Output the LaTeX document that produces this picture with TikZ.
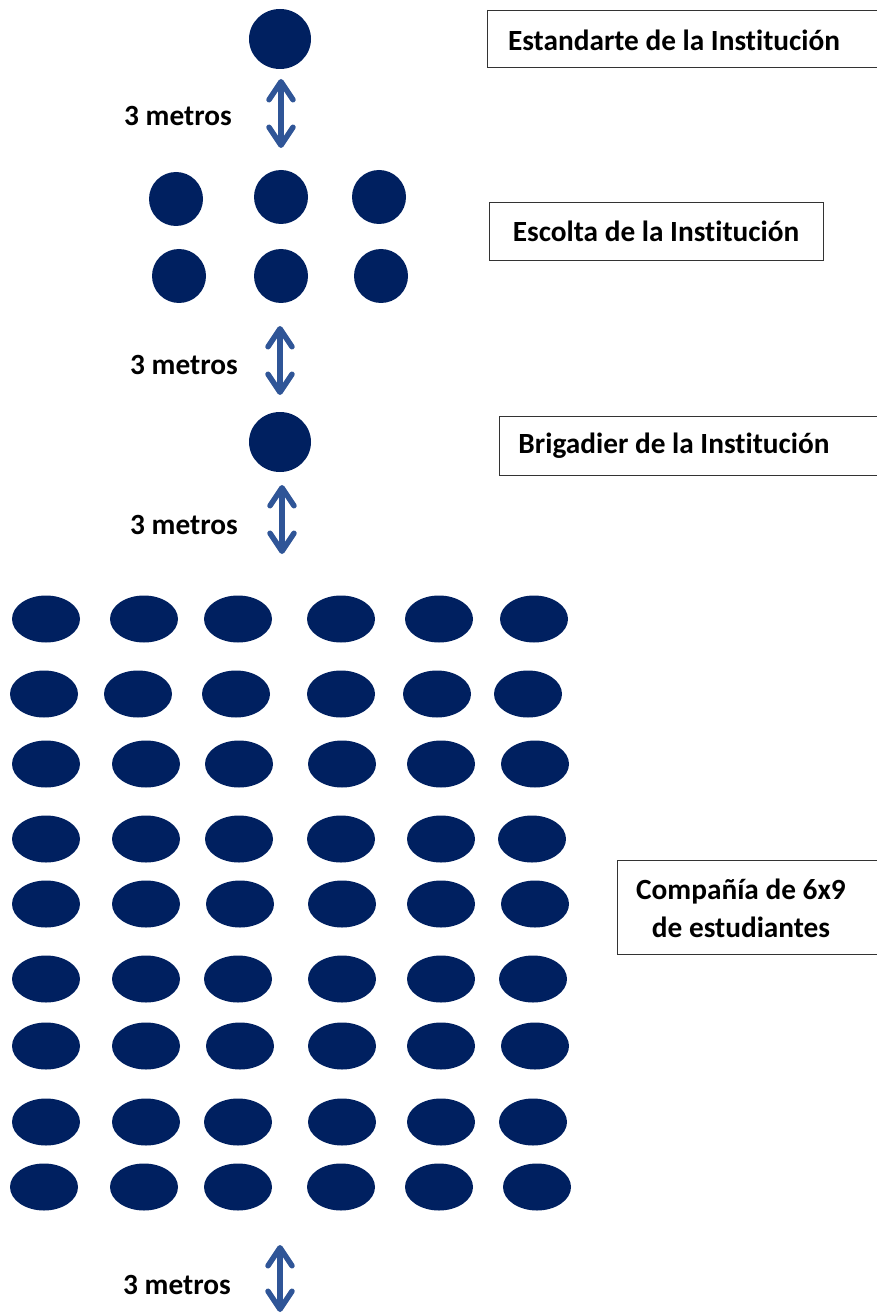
\documentclass[tikz,border=0pt]{standalone}
\usepackage{fontspec}
\setmainfont[RawFeature=-liga]{Carlito}
\usetikzlibrary{arrows.meta}
\definecolor{dotblue}{RGB}{0,32,96}
\definecolor{arrblue}{RGB}{47,85,151}
\tikzset{
  lbl/.style={font=\fontsize{29.3}{35}\selectfont\bfseries, inner sep=0pt, align=center},
  rnd/.style={fill=dotblue, draw=none},
  dist/.style={draw=arrblue, line width=5.5pt, line cap=round,
    {Straight Barb[length=18pt, width=24pt, line cap=round, line join=round]}-{Straight Barb[length=18pt, width=24pt, line cap=round, line join=round]}},
  frame/.style={draw=black!80, line width=0.9pt}
}
\begin{document}
\begin{tikzpicture}[x=1pt, y=-1pt]
\useasboundingbox (0,0) rectangle (876,1313);
% top single
\fill[rnd] (280,39) ellipse [x radius=31, y radius=30];
\node[lbl] (t1) at (674,40) {Estandarte de la Institución};
\draw[frame] (487,10) -- (880,10) (487,10) -- (487,67) -- (880,67);
\coordinate (a1t) at (281,79); \coordinate (a1b) at (281,148);
\draw[dist] (a1t) -- (a1b);
\node[lbl] (m1) at (178,116) {3 metros};
% escolta
\foreach \x/\y [count=\i] in {176/199, 281/197, 379/197, 179/276, 281/276, 381/276}
  \fill[rnd] (\x,\y) circle [radius=27];
\node[lbl, draw=black!80, line width=0.9pt, minimum width=334pt, minimum height=58pt] (t2) at (656,231) {Escolta de la Institución};
\coordinate (a2t) at (280,326); \coordinate (a2b) at (280,395);
\draw[dist] (a2t) -- (a2b);
\node[lbl] (m2) at (184,365) {3 metros};
% brigadier
\fill[rnd] (280,442) ellipse [x radius=31, y radius=30];
\node[lbl] (t3) at (674,446) {Brigadier de la Institución};
\draw[frame] (499,416) -- (880,416) (499,416) -- (499,475) -- (880,475);
\coordinate (a3t) at (282,485); \coordinate (a3b) at (282,554);
\draw[dist] (a3t) -- (a3b);
\node[lbl] (m3) at (184,525) {3 metros};
% company grid
\foreach \y/\xa/\xb/\xc/\xd/\xe/\xf in {
  619/46/144/238/341/439/534,
  694/44/138/236/341/437/528,
  764/46/146/239/342/441/535,
  839/46/146/239/341/441/532,
  904/46/146/240/342/441/535,
  979/46/146/238/342/441/533,
  1046/46/146/240/342/441/535,
  1122/46/146/238/342/441/533,
  1187/44/144/238/341/439/537}
  \foreach \x in {\xa,\xb,\xc,\xd,\xe,\xf}
    \fill[rnd] (\x,\y) ellipse [x radius=34, y radius=23.5];
\node[lbl] (t4) at (741,908) {Compañía de 6x9\\[3pt]de estudiantes};
\draw[frame] (617,860) -- (880,860) (617,860) -- (617,954) -- (880,954);
\coordinate (a4t) at (280,1245); \coordinate (a4b) at (280,1312);
\draw[dist] (a4t) -- (a4b);
\node[lbl] (m4) at (177,1285) {3 metros};
\end{tikzpicture}
\end{document}
